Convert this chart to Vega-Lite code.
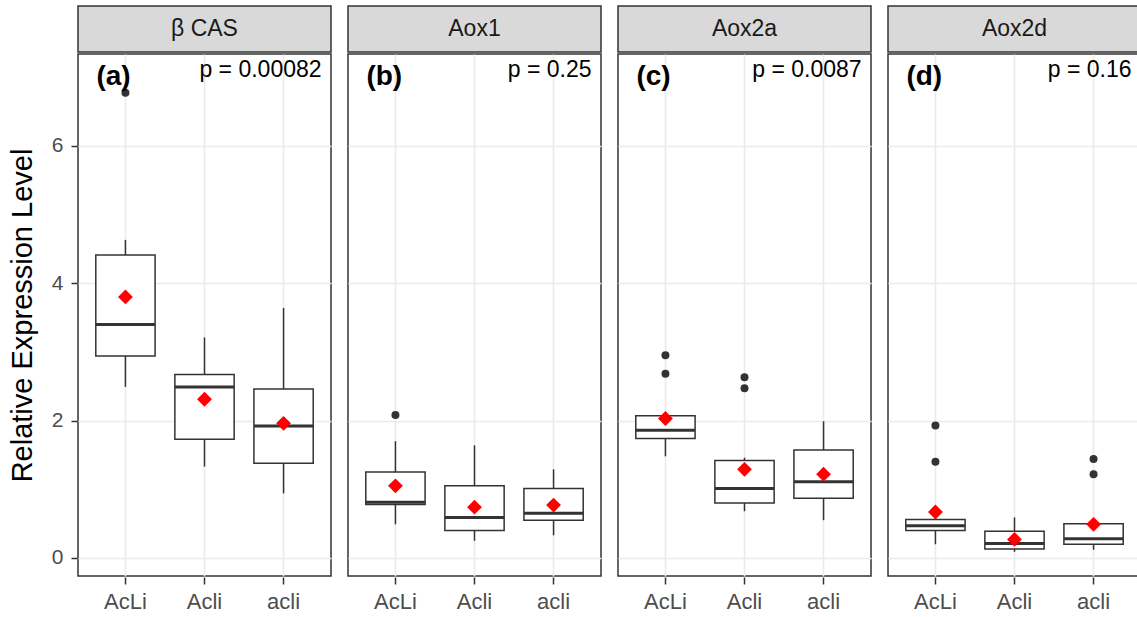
{
  "$schema": "https://vega.github.io/schema/vega-lite/v6.json",
  "padding": {"left": 8, "top": 5, "right": 0, "bottom": 0},
  "config": {
    "font": "Liberation Sans",
    "view": {"stroke": "#333333", "strokeWidth": 1.5},
    "concat": {"spacing": 0},
    "facet": {"spacing": 15}
  },
  "data": {
    "values": [
      {"gene": "β CAS", "group": "AcLi", "lower": 2.49, "q1": 2.94, "median": 3.40, "q3": 4.41, "upper": 4.63, "mean": 3.80},
      {"gene": "β CAS", "group": "Acli", "lower": 1.33, "q1": 1.73, "median": 2.49, "q3": 2.67, "upper": 3.21, "mean": 2.31},
      {"gene": "β CAS", "group": "acli", "lower": 0.94, "q1": 1.38, "median": 1.92, "q3": 2.46, "upper": 3.64, "mean": 1.96},
      {"gene": "Aox1", "group": "AcLi", "lower": 0.49, "q1": 0.78, "median": 0.81, "q3": 1.25, "upper": 1.70, "mean": 1.05},
      {"gene": "Aox1", "group": "Acli", "lower": 0.25, "q1": 0.40, "median": 0.59, "q3": 1.05, "upper": 1.64, "mean": 0.74},
      {"gene": "Aox1", "group": "acli", "lower": 0.33, "q1": 0.55, "median": 0.65, "q3": 1.01, "upper": 1.29, "mean": 0.77},
      {"gene": "Aox2a", "group": "AcLi", "lower": 1.48, "q1": 1.74, "median": 1.86, "q3": 2.07, "upper": 2.08, "mean": 2.03},
      {"gene": "Aox2a", "group": "Acli", "lower": 0.68, "q1": 0.80, "median": 1.01, "q3": 1.42, "upper": 1.46, "mean": 1.29},
      {"gene": "Aox2a", "group": "acli", "lower": 0.55, "q1": 0.87, "median": 1.11, "q3": 1.57, "upper": 1.99, "mean": 1.22},
      {"gene": "Aox2d", "group": "AcLi", "lower": 0.20, "q1": 0.40, "median": 0.47, "q3": 0.56, "upper": 0.58, "mean": 0.67},
      {"gene": "Aox2d", "group": "Acli", "lower": 0.09, "q1": 0.13, "median": 0.21, "q3": 0.39, "upper": 0.59, "mean": 0.27},
      {"gene": "Aox2d", "group": "acli", "lower": 0.12, "q1": 0.20, "median": 0.28, "q3": 0.50, "upper": 0.51, "mean": 0.49},
      {"gene": "β CAS", "group": "AcLi", "outlier": 6.77},
      {"gene": "Aox1", "group": "AcLi", "outlier": 2.08},
      {"gene": "Aox2a", "group": "AcLi", "outlier": 2.95},
      {"gene": "Aox2a", "group": "AcLi", "outlier": 2.68},
      {"gene": "Aox2a", "group": "Acli", "outlier": 2.63},
      {"gene": "Aox2a", "group": "Acli", "outlier": 2.47},
      {"gene": "Aox2d", "group": "AcLi", "outlier": 1.93},
      {"gene": "Aox2d", "group": "AcLi", "outlier": 1.40},
      {"gene": "Aox2d", "group": "acli", "outlier": 1.44},
      {"gene": "Aox2d", "group": "acli", "outlier": 1.22},
      {"gene": "β CAS", "tag": "(a)", "ptext": "p = 0.00082"},
      {"gene": "Aox1", "tag": "(b)", "ptext": "p = 0.25"},
      {"gene": "Aox2a", "tag": "(c)", "ptext": "p = 0.0087"},
      {"gene": "Aox2d", "tag": "(d)", "ptext": "p = 0.16"}
    ]
  },
  "vconcat": [
    {
      "facet": {
        "column": {"field": "gene", "type": "nominal", "sort": ["β CAS", "Aox1", "Aox2a", "Aox2d"], "header": {"title": null, "labels": false}}
      },
      "spec": {
        "width": 253,
        "height": 46,
        "view": {"fill": "#D9D9D9", "stroke": "#333333", "strokeWidth": 1.5},
        "transform": [{"filter": "isValid(datum.tag)"}],
        "mark": {"type": "text", "fontSize": 23, "color": "#1A1A1A", "baseline": "middle", "align": "center"},
        "encoding": {"text": {"field": "gene"}}
      }
    },
    {
      "facet": {
        "column": {"field": "gene", "type": "nominal", "sort": ["β CAS", "Aox1", "Aox2a", "Aox2d"], "header": {"title": null, "labels": false}}
      },
      "spec": {
        "width": 253,
        "height": 522,
        "view": {"fill": "white", "stroke": "#333333", "strokeWidth": 1.5},
        "encoding": {
          "x": {
            "field": "group", "type": "nominal", "sort": ["AcLi", "Acli", "acli"],
            "scale": {"type": "band", "paddingInner": 0.25, "paddingOuter": 0.225},
            "axis": {"title": null, "labelAngle": 0, "labelFontSize": 22, "labelColor": "#4D4D4D", "labelPadding": 7, "domain": false, "ticks": true, "tickSize": 7, "tickWidth": 1.5, "tickColor": "#333333", "grid": true, "gridColor": "#EBEBEB", "gridWidth": 1.6}
          }
        },
        "layer": [
          {
            "transform": [{"filter": "isValid(datum.q1)"}],
            "mark": {"type": "rule", "color": "#333333", "strokeWidth": 1.5},
            "encoding": {
              "y": {
                "field": "lower", "type": "quantitative",
                "scale": {"domain": [-0.262, 7.335], "nice": false, "zero": false},
                "axis": {"title": "Relative Expression Level", "titleFontSize": 29, "titleFontWeight": "normal", "titleColor": "black", "titlePadding": 14, "values": [0, 2, 4, 6], "format": "d", "labelFontSize": 21, "labelColor": "#4D4D4D", "labelPadding": 8, "domain": false, "tickSize": 6, "tickWidth": 1.5, "tickColor": "#333333", "grid": true, "gridColor": "#EBEBEB", "gridWidth": 1.6}
              },
              "y2": {"field": "upper"}
            }
          },
          {
            "transform": [{"filter": "isValid(datum.q1)"}],
            "mark": {"type": "bar", "fill": "white", "stroke": "#333333", "strokeWidth": 1.5},
            "encoding": {
              "y": {"field": "q1", "type": "quantitative"},
              "y2": {"field": "q3"}
            }
          },
          {
            "transform": [{"filter": "isValid(datum.q1)"}],
            "mark": {"type": "tick", "color": "#333333", "opacity": 1, "size": 59, "thickness": 3},
            "encoding": {
              "y": {"field": "median", "type": "quantitative"}
            }
          },
          {
            "transform": [{"filter": "isValid(datum.outlier)"}],
            "mark": {"type": "point", "shape": "circle", "filled": true, "color": "#333333", "opacity": 1, "size": 64},
            "encoding": {
              "y": {"field": "outlier", "type": "quantitative"}
            }
          },
          {
            "transform": [{"filter": "isValid(datum.q1)"}],
            "mark": {"type": "point", "shape": "diamond", "filled": true, "color": "#FF0000", "opacity": 1, "size": 220},
            "encoding": {
              "y": {"field": "mean", "type": "quantitative"}
            }
          },
          {
            "transform": [{"filter": "isValid(datum.tag)"}],
            "mark": {"type": "text", "fontSize": 28, "fontWeight": "bold", "color": "black", "align": "left", "baseline": "middle", "dx": -29},
            "encoding": {
              "x": {"datum": "AcLi", "type": "nominal"},
              "y": {"datum": 7.0, "type": "quantitative"},
              "text": {"field": "tag"}
            }
          },
          {
            "transform": [{"filter": "isValid(datum.tag)"}],
            "mark": {"type": "text", "fontSize": 23, "color": "black", "align": "right", "baseline": "middle", "dx": 38},
            "encoding": {
              "x": {"datum": "acli", "type": "nominal"},
              "y": {"datum": 7.1, "type": "quantitative"},
              "text": {"field": "ptext"}
            }
          }
        ]
      }
    }
  ]
}
